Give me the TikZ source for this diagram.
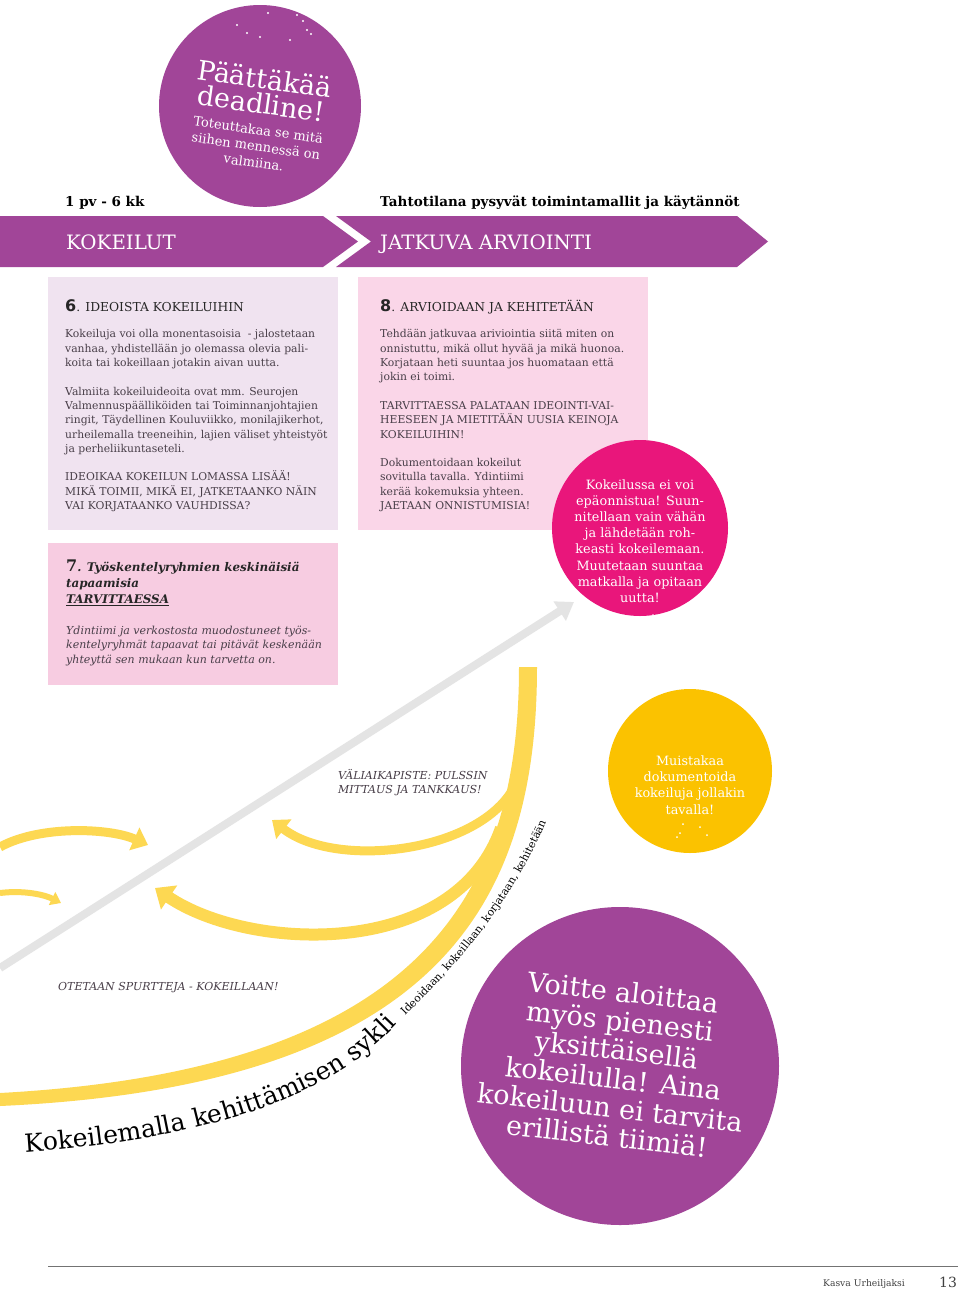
\documentclass[tikz,border=0pt]{standalone}
\usepackage{fontspec}
\setmainfont{DejaVu Serif}
\setsansfont{DejaVu Sans}
\usepackage{tikz}
\usetikzlibrary{positioning,arrows.meta,decorations.text}

\definecolor{kpurple}{RGB}{161,69,152}
\definecolor{klav}{RGB}{240,227,240}
\definecolor{kpink}{RGB}{250,214,232}
\definecolor{kpinkb}{RGB}{247,204,225}
\definecolor{kmagenta}{RGB}{233,22,123}
\definecolor{kyellow}{RGB}{251,194,0}
\definecolor{kcurve}{RGB}{253,216,82}
\definecolor{kgray}{RGB}{228,228,228}
\definecolor{ktext}{RGB}{72,62,72}
\newcommand\syklifont{\fontsize{25}{26}\selectfont}
\newcommand\cyclefont{\fontsize{10.8}{11}\selectfont}

\begin{document}
\begin{tikzpicture}[
    x=1pt, y=-1pt,
    box/.style={rectangle, anchor=north west, inner sep=0pt},
    body/.style={anchor=north west, align=left, inner sep=0pt, text=ktext, font=\fontsize{10.8}{14.3}\selectfont},
    head/.style={anchor=base west, inner sep=0pt, text=black!85, font=\fontsize{12.3}{14}\selectfont},
    disc/.style={circle, inner sep=0pt},
    disctxt/.style={align=center, text=white, inner sep=0pt},
    note/.style={anchor=north west, align=left, inner sep=0pt, text=ktext, font=\fontsize{11}{14}\selectfont\itshape},
    yarrow/.style={kcurve, -{Triangle[width=24pt,length=15pt]}}
]
\useasboundingbox[fill=white] (0,0) rectangle (960,1291);

% === top disc ===
\node[disc, fill=kpurple, minimum size=202] (deadline) at (260,106) {};
\foreach \px/\py in {268/13, 297/15, 303/21, 307/30, 311/34, 237/25, 247/33, 290/40, 260/37}
    \fill[white] (\px,\py) circle (1.1);
\node[disctxt, rotate=-8, font=\fontsize{27}{25}\selectfont] (deadtitle) at (263,91) {Päättäkää\\deadline!};
\node[disctxt, rotate=-8, font=\fontsize{13}{16.5}\selectfont] (deadsub) at (256,146) {Toteuttakaa se mitä\\siihen mennessä on\\valmiina.};

% === phase band ===
\node[anchor=base west, inner sep=0pt, font=\fontsize{13.5}{15}\selectfont\bfseries] (dur) at (65,206) {1 pv - 6 kk};
\node[anchor=base west, inner sep=0pt, font=\fontsize{13.5}{15}\selectfont\bfseries] (goal) at (380,206) {Tahtotilana pysyvät toimintamallit ja käytännöt};
\fill[kpurple] (0,216) -- (323,216) -- (358,241.5) -- (323,267) -- (0,267) -- cycle;
\fill[kpurple] (336,216) -- (737,216) -- (768,241.5) -- (737,267) -- (336,267) -- (371,241.5) -- cycle;
\node[anchor=base west, inner sep=0pt, text=white, font=\fontsize{19.8}{21}\selectfont] (trial) at (66,249) {KOKEILUT};
\node[anchor=base west, inner sep=0pt, text=white, font=\fontsize{19.8}{21}\selectfont] (eval) at (380,249) {JATKUVA ARVIOINTI};

% === box 6 ===
\node[box, fill=klav, minimum width=290, minimum height=253] (box6) at (48,277) {};
\node[head] (h6) at (65,311) {{\sffamily\bfseries\fontsize{16}{16}\selectfont 6}. IDEOISTA KOKEILUIHIN};
\node[body] (t6) at (65,329.5) {Kokeiluja voi olla monentasoisia\ \ - jalostetaan\\
vanhaa, yhdistellään jo olemassa olevia pali-\\
koita tai kokeillaan jotakin aivan uutta.\\[14.3pt]
Valmiita kokeiluideoita ovat mm. Seurojen\\
Valmennuspäälliköiden tai Toiminnanjohtajien\\
ringit, Täydellinen Kouluviikko, monilajikerhot,\\
urheilemalla treeneihin, lajien väliset yhteistyöt\\
ja perheliikuntaseteli.\\[14.3pt]
IDEOIKAA KOKEILUN LOMASSA LISÄÄ!\\
MIKÄ TOIMII, MIKÄ EI, JATKETAANKO NÄIN\\
VAI KORJATAANKO VAUHDISSA?};

% === box 8 ===
\node[box, fill=kpink, minimum width=290, minimum height=253] (box8) at (358,277) {};
\node[head] (h8) at (380,311) {{\sffamily\bfseries\fontsize{16}{16}\selectfont 8}. ARVIOIDAAN JA KEHITETÄÄN};
\node[body] (t8) at (380,329.5) {Tehdään jatkuvaa ariviointia siitä miten on\\
onnistuttu, mikä ollut hyvää ja mikä huonoa.\\
Korjataan heti suuntaa jos huomataan että\\
jokin ei toimi.\\[14.3pt]
TARVITTAESSA PALATAAN IDEOINTI-VAI-\\
HEESEEN JA MIETITÄÄN UUSIA KEINOJA\\
KOKEILUIHIN!\\[14.3pt]
Dokumentoidaan kokeilut\\
sovitulla tavalla. Ydintiimi\\
kerää kokemuksia yhteen.\\
JAETAAN ONNISTUMISIA!};

% === box 7 ===
\node[box, fill=kpinkb, minimum width=290, minimum height=142] (box7) at (48,543) {};
\node[anchor=north west, align=left, inner sep=0pt, text=black!85, font=\fontsize{11.9}{16}\selectfont\bfseries\itshape] (h7) at (66,560)
  {{\upshape\fontsize{16}{16}\selectfont 7}. Työskentelyryhmien keskinäisiä\\tapaamisia\\\underline{TARVITTAESSA}};
\node[body, font=\fontsize{11}{14.3}\selectfont\itshape] (t7) at (66,626) {Ydintiimi ja verkostosta muodostuneet työs-\\
kentelyryhmät tapaavat tai pitävät keskenään\\
yhteyttä sen mukaan kun tarvetta on.};

% === discs on the right ===
\node[disc, fill=kmagenta, minimum size=176] (fail) at (640,528) {};
\node[disctxt, font=\fontsize{12.8}{16.2}\selectfont] (failtxt) at (640,541) {Kokeilussa ei voi\\epäonnistua! Suun-\\nitellaan vain vähän\\ja lähdetään roh-\\keasti kokeilemaan.\\Muutetaan suuntaa\\matkalla ja opitaan\\uutta!};
\foreach \px/\py in {638/617, 645/620, 653/615}
    \fill[white] (\px,\py) circle (0.9);
\node[disc, fill=kyellow, minimum size=164] (docu) at (690,771) {};
\node[disctxt, font=\fontsize{12.8}{16.3}\selectfont] (docutxt) at (690,785) {Muistakaa\\dokumentoida\\kokeiluja jollakin\\tavalla!};
\foreach \px/\py in {677/837, 680/833, 700/827, 707/835, 683/824}
    \fill[white] (\px,\py) circle (1);
\node[disc, fill=kpurple, minimum size=318] (small) at (620,1066) {};
\node[disctxt, rotate=-6.5, font=\fontsize{27}{29}\selectfont] (smalltxt) at (615,1064) {Voitte aloittaa\\myös pienesti\\yksittäisellä\\kokeilulla! Aina\\kokeiluun ei tarvita\\erillistä tiimiä!};

% === progress arrow ===
\coordinate (grayS) at (0,968);
\coordinate (grayE) at (574,602);
\draw[kgray, line width=8, -{Triangle[width=22pt,length=17pt]}] (grayS) -- (grayE);

% === development cycle ===
\coordinate (mainTR) at (537,667);
\coordinate (mainTL) at (519,667);
\coordinate (mainBR) at (0,1106);
\coordinate (mainBL) at (0,1093);
\fill[kcurve] (mainTR) .. controls (537,900) and (442,1086) .. (mainBR) -- (mainBL) .. controls (422,1070) and (519,895) .. (mainTL) -- cycle;

\coordinate (retAs) at (521,768);
\coordinate (retAe) at (272,820);
\coordinate (retBs) at (501,828);
\coordinate (retBe) at (155,888);
\coordinate (spAs) at (0,847);
\coordinate (spAe) at (148,845);
\coordinate (spBs) at (0,893);
\coordinate (spBe) at (61,903);
\draw[yarrow, line width=9] (retAs) .. controls (505,850) and (340,873) .. (retAe);
\draw[yarrow, line width=12, -{Triangle[width=28pt,length=17pt]}] (retBs) .. controls (455,960) and (250,952) .. (retBe);
\draw[yarrow, line width=9] (spAs) .. controls (40,825) and (110,828) .. (spAe);
\draw[yarrow, line width=6, -{Triangle[width=14pt,length=10pt]}] (spBs) .. controls (25,890) and (45,895) .. (spBe);

\node[note] (pulse) at (338,769) {VÄLIAIKAPISTE: PULSSIN\\MITTAUS JA TANKKAUS!};
\node[note] (sprint) at (58,982) {OTETAAN SPURTTEJA - KOKEILLAAN!};

% curved caption under the cycle
\path[decorate, decoration={text along path, text align=left,
    text={|\syklifont|Kokeilemalla kehittämisen sykli |\cyclefont| Ideoidaan, kokeillaan, korjataan, kehitetään}}]
  (25,1152) .. controls (200,1140) and (330,1100) .. (400,1021)
  .. controls (467,955) and (522,890) .. (557,795);

% === footer ===
\coordinate (footL) at (48,1266);
\coordinate (footR) at (958,1266);
\draw[black!55, line width=0.8] (footL) -- (footR);
\node[anchor=base, inner sep=0pt, text=black!75, font=\fontsize{9.2}{10}\selectfont] (brand) at (864,1286) {Kasva Urheiljaksi};
\node[anchor=base, inner sep=0pt, text=black!75, font=\fontsize{14}{15}\selectfont] (page) at (948,1287) {13};
\end{tikzpicture}
\end{document}
